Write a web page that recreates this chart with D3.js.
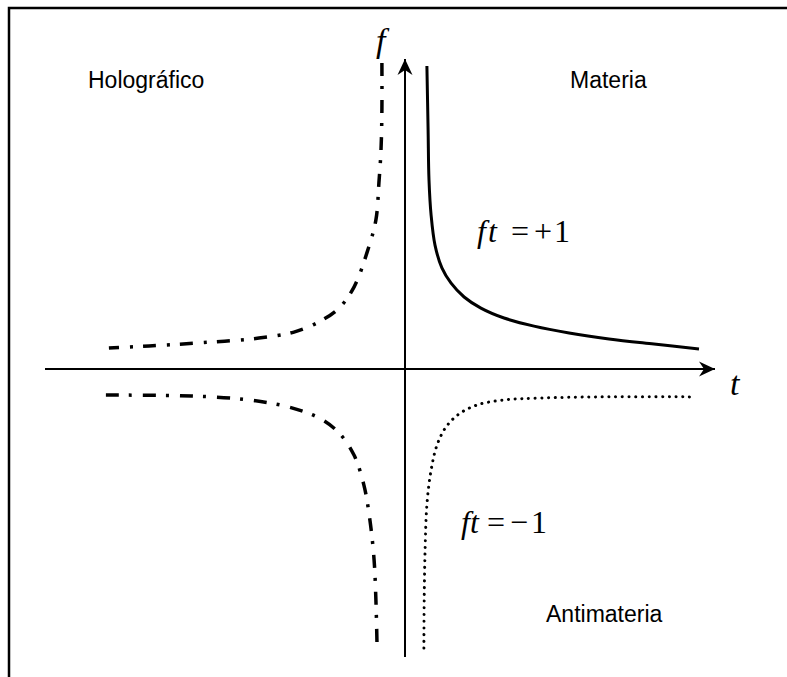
<!DOCTYPE html>
<html>
<head>
<meta charset="utf-8">
<script src="https://cdn.jsdelivr.net/npm/d3@7"></script>
<style>
  body { margin: 0; background: #fff; }
  svg { display: block; }
  .quad { font-family: "Liberation Sans", Arial, sans-serif; font-size: 23px; fill: #000; }
  .math { font-family: "Liberation Serif", "Times New Roman", serif; font-size: 32px; fill: #000; }
</style>
</head>
<body>
<div id="chart"></div>
<script>
// curves, (t, f) pairs
const materia = [
  [0.73, 10.1], [0.77, 7.97], [0.80, 6.3], [0.87, 5.13], [1.0, 4.13],
  [1.23, 3.37], [1.53, 2.87], [1.97, 2.4], [2.53, 2.03], [3.3, 1.7],
  [4.3, 1.43], [5.47, 1.2], [6.8, 1.0], [8.3, 0.83], [9.8, 0.67]
];
const antimateria = [
  [0.63, -9.3], [0.64, -7.7], [0.67, -6.03], [0.73, -4.53], [0.87, -3.37],
  [1.07, -2.53], [1.37, -1.93], [1.8, -1.5], [2.4, -1.2], [3.3, -1.03],
  [4.47, -0.97], [6.47, -0.93], [9.7, -0.93]
];
const holoTop = [
  [-0.77, 10.2], [-0.77, 8.63], [-0.8, 7.3], [-0.87, 6.2], [-0.97, 4.97],
  [-1.27, 3.87], [-1.7, 2.73], [-2.2, 2.03], [-2.87, 1.57], [-3.7, 1.23],
  [-4.87, 1.03], [-6.87, 0.87], [-8.53, 0.77], [-9.87, 0.7]
];
const holoBottom = [
  [-9.97, -0.87], [-7.1, -0.9], [-5.2, -1.03], [-3.87, -1.27], [-2.87, -1.63],
  [-2.2, -2.13], [-1.7, -2.87], [-1.37, -3.87], [-1.17, -5.03], [-1.03, -6.37],
  [-0.97, -7.7], [-0.93, -9.3]
];
const quadrantLabels = ["Holográfico", "Materia", "Antimateria"];

const width = 787, height = 677;

const svg = d3.select("#chart").append("svg")
  .attr("width", width)
  .attr("height", height);

const x = d3.scaleLinear().domain([-12, 10.4]).range([45, 717]);
const y = d3.scaleLinear().domain([-9.6, 10.4]).range([657, 57]);

// frame (top and left edges only)
svg.append("path")
  .attr("d", `M9,${height} V8 H${width}`)
  .attr("fill", "none")
  .attr("stroke", "#000")
  .attr("stroke-width", 2.5);

svg.append("defs").append("marker")
  .attr("id", "arrow")
  .attr("viewBox", "-16 -8 17 16")
  .attr("refX", 0)
  .attr("refY", 0)
  .attr("markerWidth", 17)
  .attr("markerHeight", 16)
  .attr("markerUnits", "userSpaceOnUse")
  .attr("orient", "auto")
  .append("path")
  .attr("d", "M0,0 L-16,-7.5 L-11,0 L-16,7.5 Z")
  .attr("fill", "#000");

// axes
svg.append("line")
  .attr("x1", x(-12)).attr("y1", y(0))
  .attr("x2", x(10.4) - 2).attr("y2", y(0))
  .attr("stroke", "#000").attr("stroke-width", 2)
  .attr("marker-end", "url(#arrow)");
svg.append("line")
  .attr("x1", x(0)).attr("y1", y(-9.6))
  .attr("x2", x(0)).attr("y2", y(10.4) + 2)
  .attr("stroke", "#000").attr("stroke-width", 2)
  .attr("marker-end", "url(#arrow)");

const line = d3.line()
  .x(d => x(d[0]))
  .y(d => y(d[1]))
  .curve(d3.curveCatmullRom.alpha(0.5));

svg.append("path")
  .datum(materia)
  .attr("d", line)
  .attr("fill", "none")
  .attr("stroke", "#000")
  .attr("stroke-width", 3);

svg.append("path")
  .datum(antimateria)
  .attr("d", line)
  .attr("fill", "none")
  .attr("stroke", "#000")
  .attr("stroke-width", 3)
  .attr("stroke-linecap", "round")
  .attr("stroke-dasharray", "0.1 6.6");

[holoTop, holoBottom].forEach(pts => {
  svg.append("path")
    .datum(pts)
    .attr("d", line)
    .attr("fill", "none")
    .attr("stroke", "#000")
    .attr("stroke-width", 3.5)
    .attr("stroke-dasharray", "13 10 3 11");
});

// quadrant labels
svg.append("text").attr("class", "quad").attr("x", 88).attr("y", 88).text(quadrantLabels[0]);
svg.append("text").attr("class", "quad").attr("x", 570).attr("y", 88).text(quadrantLabels[1]);
svg.append("text").attr("class", "quad").attr("x", 546).attr("y", 622).text(quadrantLabels[2]);

// axis names
svg.append("text").attr("class", "math").attr("x", 376).attr("y", 52)
  .style("font-size", "34px").style("font-style", "italic").text("f");
svg.append("text").attr("class", "math").attr("x", 730).attr("y", 395)
  .style("font-size", "34px").style("font-style", "italic").text("t");

// equations
function equation(x0, base, xs, sign, spacing) {
  const t = svg.append("text").attr("class", "math").attr("y", base);
  t.append("tspan").attr("x", x0)
    .style("font-style", "italic")
    .style("letter-spacing", spacing + "px")
    .text("ft");
  t.append("tspan").attr("x", xs[0]).style("letter-spacing", "0px").text("=");
  t.append("tspan").attr("x", xs[1]).text(sign);
  t.append("tspan").attr("x", xs[2]).text("1");
}
equation(477, 242, [511, 534, 554], "+", 2);
equation(461, 533, [487, 510, 531], "\u2212", 0);
</script>
</body>
</html>
